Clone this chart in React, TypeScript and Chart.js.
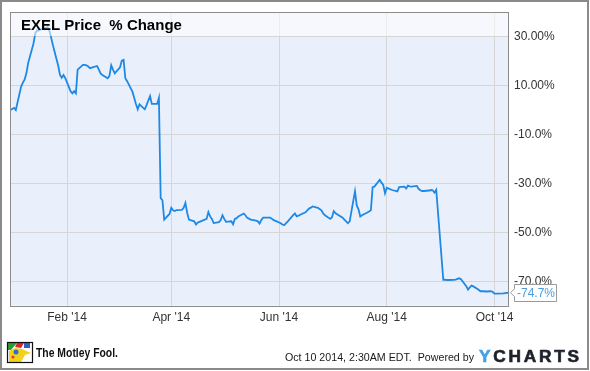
import React, { useEffect, useRef } from "react";
import { Chart, registerables } from "chart.js";

Chart.register(...registerables);

// ---- data ----
const DATES = [
  "2013-12-31", "2014-01-02", "2014-01-03", "2014-01-06", "2014-01-07", "2014-01-08", "2014-01-09", "2014-01-10",
  "2014-01-13", "2014-01-14", "2014-01-15", "2014-01-16", "2014-01-17", "2014-01-21", "2014-01-22", "2014-01-23",
  "2014-01-24", "2014-01-27", "2014-01-28", "2014-01-29", "2014-01-30", "2014-01-31", "2014-02-03", "2014-02-04",
  "2014-02-05", "2014-02-06", "2014-02-07", "2014-02-10", "2014-02-11", "2014-02-12", "2014-02-13", "2014-02-14",
  "2014-02-18", "2014-02-19", "2014-02-20", "2014-02-21", "2014-02-24", "2014-02-25", "2014-02-26", "2014-02-27",
  "2014-02-28", "2014-03-03", "2014-03-04", "2014-03-05", "2014-03-06", "2014-03-07", "2014-03-10", "2014-03-11",
  "2014-03-12", "2014-03-13", "2014-03-14", "2014-03-17", "2014-03-18", "2014-03-19", "2014-03-20", "2014-03-21",
  "2014-03-24", "2014-03-25", "2014-03-26", "2014-03-27", "2014-03-28", "2014-03-31", "2014-04-01", "2014-04-02",
  "2014-04-03", "2014-04-04", "2014-04-07", "2014-04-08", "2014-04-09", "2014-04-10", "2014-04-11", "2014-04-14",
  "2014-04-15", "2014-04-16", "2014-04-17", "2014-04-21", "2014-04-22", "2014-04-23", "2014-04-24", "2014-04-25",
  "2014-04-28", "2014-04-29", "2014-04-30", "2014-05-01", "2014-05-02", "2014-05-05", "2014-05-06", "2014-05-07",
  "2014-05-08", "2014-05-09", "2014-05-12", "2014-05-13", "2014-05-14", "2014-05-15", "2014-05-16", "2014-05-19",
  "2014-05-20", "2014-05-21", "2014-05-22", "2014-05-23", "2014-05-27", "2014-05-28", "2014-05-29", "2014-05-30",
  "2014-06-02", "2014-06-03", "2014-06-04", "2014-06-05", "2014-06-06", "2014-06-09", "2014-06-10", "2014-06-11",
  "2014-06-12", "2014-06-13", "2014-06-16", "2014-06-17", "2014-06-18", "2014-06-19", "2014-06-20", "2014-06-23",
  "2014-06-24", "2014-06-25", "2014-06-26", "2014-06-27", "2014-06-30", "2014-07-01", "2014-07-02", "2014-07-03",
  "2014-07-07", "2014-07-08", "2014-07-09", "2014-07-10", "2014-07-11", "2014-07-14", "2014-07-15", "2014-07-16",
  "2014-07-17", "2014-07-18", "2014-07-21", "2014-07-22", "2014-07-23", "2014-07-24", "2014-07-25", "2014-07-28",
  "2014-07-29", "2014-07-30", "2014-07-31", "2014-08-01", "2014-08-04", "2014-08-05", "2014-08-06", "2014-08-07",
  "2014-08-08", "2014-08-11", "2014-08-12", "2014-08-13", "2014-08-14", "2014-08-15", "2014-08-18", "2014-08-19",
  "2014-08-20", "2014-08-21", "2014-08-22", "2014-08-25", "2014-08-26", "2014-08-27", "2014-08-28", "2014-08-29",
  "2014-09-02", "2014-09-03", "2014-09-04", "2014-09-05", "2014-09-08", "2014-09-09", "2014-09-10", "2014-09-11",
  "2014-09-12", "2014-09-15", "2014-09-16", "2014-09-17", "2014-09-18", "2014-09-19", "2014-09-22", "2014-09-23",
  "2014-09-24", "2014-09-25", "2014-09-26", "2014-09-29", "2014-09-30", "2014-10-01", "2014-10-02", "2014-10-03",
  "2014-10-06", "2014-10-07", "2014-10-08", "2014-10-09",
];

const PCT_CHANGE = [
  0.0, 0.9, 0.0, 9.6, 11.2, 12.5, 15.1, 19.3,
  27.2, 31.4, 32.6, 32.5, 32.9, 33.9, 32.4, 29.6,
  26.5, 18.1, 14.4, 13.2, 14.3, 13.0, 7.7, 6.8,
  7.7, 6.8, 16.5, 18.5, 18.5, 18.3, 17.8, 17.1,
  18.0, 16.5, 15.0, 14.3, 13.0, 14.0, 18.3, 16.5,
  15.0, 17.5, 20.2, 20.5, 13.0, 11.8, 7.5, 5.0,
  2.5, 0.3, 2.3, 0.3, 2.0, 3.9, 5.7, 2.5,
  2.5, 5.0, -36.0, -36.9, -44.8, -42.5, -40.0, -41.0,
  -41.3, -40.9, -40.8, -40.0, -38.0, -42.0, -44.8, -45.5,
  -46.8, -46.0, -45.7, -44.5, -41.7, -43.5, -44.5, -46.2,
  -45.8, -45.0, -43.0, -44.5, -45.7, -45.5, -46.7, -44.5,
  -44.2, -43.5, -42.3, -43.0, -44.1, -44.4, -44.8, -45.2,
  -45.5, -46.4, -45.0, -44.0, -44.0, -44.5, -45.0, -45.3,
  -46.3, -46.9, -47.0, -46.2, -45.5, -43.0, -42.3, -43.5,
  -43.2, -42.8, -41.8, -41.0, -40.3, -39.9, -39.4, -40.0,
  -40.5, -41.0, -42.3, -43.0, -44.5, -43.8, -41.3, -42.2,
  -44.0, -44.8, -45.5, -46.3, -45.5, -33.2, -39.0, -40.6,
  -43.5, -43.0, -41.9, -41.5, -41.0, -31.5, -31.3, -28.5,
  -29.7, -30.6, -34.0, -31.8, -32.7, -32.9, -33.1, -33.3,
  -31.5, -31.3, -32.1, -30.9, -31.2, -31.3, -31.0, -32.2,
  -32.8, -33.1, -33.1, -32.9, -32.7, -32.8, -33.8, -32.6,
  -69.4, -69.4, -69.5, -69.5, -69.4, -69.3, -69.0, -68.8,
  -69.2, -72.0, -73.4, -72.5, -71.8, -72.1, -73.5, -74.1,
  -74.1, -74.1, -74.2, -74.1, -74.4, -75.1, -75.1, -75.1,
  -75.0, -74.9, -74.8, -74.7,
];

const X_TICK_DATES = ["2014-02-01", "2014-04-01", "2014-06-01", "2014-08-01", "2014-10-01"];
const X_TICK_LABELS = ["Feb '14", "Apr '14", "Jun '14", "Aug '14", "Oct '14"];
const Y_TICKS = [30, 10, -10, -30, -50, -70];
const Y_TICK_LABELS = ["30.00%", "10.00%", "-10.0%", "-30.0%", "-50.0%", "-70.0%"];
const TITLE = "EXEL Price  % Change";
const LAST_LABEL = "-74.7%";
const TIMESTAMP = "Oct 10 2014, 2:30AM EDT.  Powered by";
const BRAND = "The Motley Fool.";

const FONT = '"Liberation Sans", Arial, sans-serif';

function dayOf(s: string): number {
  const [y, m, d] = s.split("-").map(Number);
  return (Date.UTC(y, m - 1, d) - Date.UTC(2014, 0, 1)) / 86400000;
}

function fitText(ctx: CanvasRenderingContext2D, text: string, x: number, y: number, width: number) {
  const w = ctx.measureText(text).width;
  ctx.save();
  ctx.translate(x, y);
  ctx.scale(width / w, 1);
  ctx.textAlign = "left";
  ctx.fillText(text, 0, 0);
  ctx.restore();
}

const decor = {
  id: "decor",
  beforeDraw(chart: any) {
    const { ctx, chartArea: a, width, height } = chart;
    ctx.save();
    ctx.fillStyle = "#ffffff";
    ctx.fillRect(0, 0, width, height);
    ctx.fillStyle = "#eaf0fb";
    ctx.fillRect(a.left, a.top, a.right - a.left, a.bottom - a.top);
    ctx.restore();
  },
  afterDatasetsDraw(chart: any) {
    const { ctx, chartArea: a } = chart;
    const y30 = Math.floor(chart.scales.y.getPixelForValue(Y_TICKS[0]));
    ctx.save();
    ctx.fillStyle = "rgba(255,255,255,0.55)";
    ctx.fillRect(a.left, a.top, a.right - a.left, y30 - a.top);
    ctx.fillStyle = "#000000";
    ctx.font = `bold 15px ${FONT}`;
    ctx.textBaseline = "alphabetic";
    ctx.fillText(TITLE, 21, 29.5);
    ctx.restore();
  },
  afterDraw(chart: any) {
    const { ctx, chartArea: a, width, height } = chart;
    ctx.save();
    // plot border
    ctx.strokeStyle = "#8c8c8c";
    ctx.lineWidth = 1;
    ctx.strokeRect(Math.round(a.left) + 0.5, Math.round(a.top) + 0.5, Math.round(a.right - a.left) - 1, Math.round(a.bottom - a.top));
    // outer frame
    ctx.strokeStyle = "#8a8a8a";
    ctx.lineWidth = 2;
    ctx.strokeRect(1, 1, width - 3, height - 3);

    // last value label
    const lastY = chart.scales.y.getPixelForValue(PCT_CHANGE[PCT_CHANGE.length - 1]);
    const bx = 514, bw = 42, bh = 17;
    const by = Math.round(lastY - bh / 2) + 0.5;
    ctx.fillStyle = "#ffffff";
    ctx.strokeStyle = "#9a9a9a";
    ctx.lineWidth = 1;
    ctx.beginPath();
    ctx.moveTo(bx + 0.5, by);
    ctx.lineTo(bx + bw + 0.5, by);
    ctx.lineTo(bx + bw + 0.5, by + bh);
    ctx.lineTo(bx + 0.5, by + bh);
    ctx.lineTo(bx + 0.5, lastY + 4);
    ctx.lineTo(a.right + 1.5, lastY);
    ctx.lineTo(bx + 0.5, lastY - 4);
    ctx.closePath();
    ctx.fill();
    ctx.stroke();
    ctx.fillStyle = "#4a9be3";
    ctx.font = `12px ${FONT}`;
    ctx.textBaseline = "middle";
    ctx.textAlign = "left";
    ctx.fillText(LAST_LABEL, bx + 3, lastY + 1);

    // footer: timestamp
    ctx.fillStyle = "#1a1a1a";
    ctx.font = `11.5px ${FONT}`;
    ctx.textBaseline = "alphabetic";
    fitText(ctx, TIMESTAMP, 285, 361, 189);

    // footer: YCHARTS
    ctx.font = `bold 16px ${FONT}`;
    const letters = "YCHARTS".split("");
    const ws = letters.map((l) => ctx.measureText(l).width * 1.08);
    const total = ws.reduce((s, v) => s + v, 0);
    const gap = (100 - total) / (letters.length - 1);
    let lx = 479;
    letters.forEach((l, i) => {
      ctx.fillStyle = i === 0 ? "#45a0ea" : "#1c212b";
      ctx.save();
      ctx.translate(lx, 361.8);
      ctx.scale(1.08, 1);
      ctx.fillText(l, 0, 0);
      ctx.strokeStyle = ctx.fillStyle;
      ctx.lineWidth = 0.6;
      ctx.strokeText(l, 0, 0);
      ctx.restore();
      lx += ws[i] + gap;
    });

    // footer: Motley Fool brand
    ctx.fillStyle = "#111111";
    ctx.font = `bold 13px ${FONT}`;
    fitText(ctx, BRAND, 36, 357, 82);

    // jester icon
    const ix = 7, iy = 342;
    ctx.fillStyle = "#ffffff";
    ctx.fillRect(ix, iy, 26, 21);
    ctx.fillStyle = "#2a9d3a";
    ctx.beginPath();
    ctx.moveTo(ix + 1, iy + 1);
    ctx.lineTo(ix + 10, iy + 1);
    ctx.lineTo(ix + 4, iy + 8);
    ctx.lineTo(ix + 1, iy + 8);
    ctx.closePath();
    ctx.fill();
    ctx.fillStyle = "#d9262b";
    ctx.beginPath();
    ctx.moveTo(ix + 10, iy + 1);
    ctx.lineTo(ix + 17, iy + 1);
    ctx.lineTo(ix + 14, iy + 6);
    ctx.lineTo(ix + 8, iy + 5);
    ctx.closePath();
    ctx.fill();
    ctx.fillStyle = "#2f5fc4";
    ctx.fillRect(ix + 17, iy + 1, 6, 5);
    ctx.fillStyle = "#f3d21c";
    ctx.beginPath();
    ctx.moveTo(ix + 2, iy + 9);
    ctx.lineTo(ix + 8, iy + 6);
    ctx.lineTo(ix + 15, iy + 7);
    ctx.lineTo(ix + 24, iy + 11);
    ctx.lineTo(ix + 18, iy + 13);
    ctx.lineTo(ix + 14, iy + 20);
    ctx.lineTo(ix + 2, iy + 20);
    ctx.closePath();
    ctx.fill();
    ctx.fillStyle = "#2c6fd1";
    ctx.beginPath();
    ctx.arc(ix + 9, iy + 10, 2.5, 0, Math.PI * 2);
    ctx.fill();
    ctx.fillStyle = "#e23b2e";
    ctx.beginPath();
    ctx.arc(ix + 6, iy + 15, 1.5, 0, Math.PI * 2);
    ctx.fill();
    ctx.strokeStyle = "#111111";
    ctx.lineWidth = 1.2;
    ctx.strokeRect(ix + 0.5, iy + 0.5, 25, 20);
    ctx.restore();
  },
};

export default function App() {
  const ref = useRef<HTMLCanvasElement | null>(null);

  useEffect(() => {
    document.body.style.margin = "0";
    const canvas = ref.current;
    if (!canvas) return;
    const points = DATES.map((d, i) => ({ x: dayOf(d), y: PCT_CHANGE[i] }));
    const xTickValues = X_TICK_DATES.map(dayOf);

    const chart = new Chart(canvas, {
      type: "line",
      data: {
        datasets: [
          {
            label: "EXEL Price % Change",
            data: points,
            borderColor: "#1e88e5",
            borderWidth: 1.8,
            pointRadius: 0,
            tension: 0,
            fill: false,
          },
        ],
      },
      options: {
        responsive: false,
        animation: false,
        devicePixelRatio: 1,
        layout: { padding: { left: 10, top: 10, right: 0, bottom: 0 } },
        plugins: {
          legend: { display: false },
          tooltip: { enabled: false },
          title: { display: false },
        },
        scales: {
          x: {
            type: "linear",
            position: "bottom",
            min: -1.3,
            max: 281.2,
            afterFit: (s: any) => {
              s.height = 65.3;
            },
            afterBuildTicks: (s: any) => {
              s.ticks = xTickValues.map((v) => ({ value: v }));
            },
            ticks: {
              autoSkip: false,
              maxRotation: 0,
              padding: 5,
              color: "#333333",
              font: { family: FONT, size: 12 },
              callback: (v: any) => {
                const i = xTickValues.indexOf(Number(v));
                return i >= 0 ? X_TICK_LABELS[i] : "";
              },
            },
            grid: { color: "#d6d6d6", lineWidth: 1, drawTicks: false },
            border: { display: false },
          },
          y: {
            position: "right",
            min: -80,
            max: 40,
            afterFit: (s: any) => {
              s.width = 81;
            },
            afterBuildTicks: (s: any) => {
              s.ticks = Y_TICKS.map((v) => ({ value: v }));
            },
            ticks: {
              padding: 5,
              color: "#333333",
              font: { family: FONT, size: 12 },
              callback: (v: any) => {
                const i = Y_TICKS.indexOf(Number(v));
                return i >= 0 ? Y_TICK_LABELS[i] : "";
              },
            },
            grid: { color: "#d6d6d6", lineWidth: 1, drawTicks: false },
            border: { display: false },
          },
        },
      },
      plugins: [decor],
    } as any);

    return () => chart.destroy();
  }, []);

  return (
    <div style={{ width: 590, height: 371 }}>
      <canvas ref={ref} width={590} height={371} style={{ display: "block", width: 590, height: 371 }} />
    </div>
  );
}
